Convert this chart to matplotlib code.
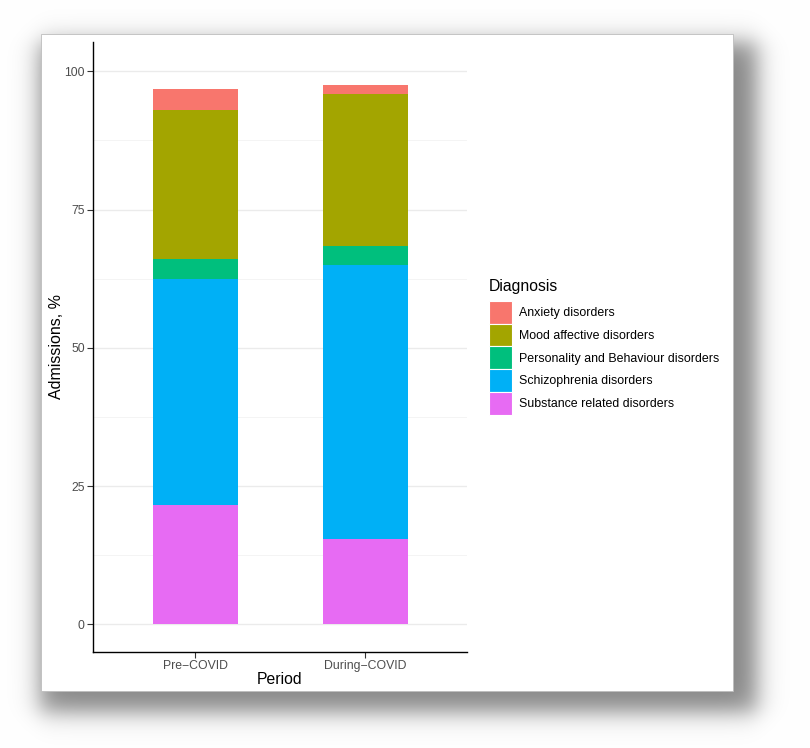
import numpy as np
import matplotlib
matplotlib.use("Agg")
import matplotlib.pyplot as plt
from matplotlib.patches import Patch, Rectangle

# ---- data ----
periods = ["Pre\u2212COVID", "During\u2212COVID"]
diagnoses = ["Anxiety disorders", "Mood affective disorders",
             "Personality and Behaviour disorders", "Schizophrenia disorders",
             "Substance related disorders"]
substance = [21.5, 15.4]
schizophrenia = [40.9, 49.65]
personality = [3.65, 3.35]
mood = [26.95, 27.45]
anxiety = [3.75, 1.65]
colors = ["#F8766D", "#A3A500", "#00BF7D", "#00B0F6", "#E76BF3"]

plt.rcParams['font.family'] = ['Liberation Sans', 'DejaVu Sans']

W, H = 810, 748
fig = plt.figure(figsize=(W / 100, H / 100), dpi=100)

# background with drop shadow
bg = fig.add_axes([0, 0, 1, 1], zorder=0)
bg.set_axis_off()
xs = np.arange(W) + 0.5
ys = np.arange(H) + 0.5
def soft(a, lo, hi, s):
    return 0.5 * (1 + np.tanh((a - lo) / s)) * 0.5 * (1 + np.tanh((hi - a) / s))
sx = soft(xs, 40, 757, 14)
sy = soft(ys, 42, 712, 14)
shade = 0.47 * np.outer(sy, sx)
img = 1 - shade
bg.imshow(np.dstack([img, img, img]), extent=[0, W, H, 0], aspect='auto')
bg.set_xlim(0, W)
bg.set_ylim(H, 0)
bg.add_patch(Rectangle((41, 34), 692, 657, facecolor='white', edgecolor='#bdbdbd', lw=0.6))

# main axes
left, right, top, bottom = 93, 467, 42, 651.7
ax = fig.add_axes([left / W, 1 - bottom / H, (right - left) / W, (bottom - top) / H], zorder=2)
ax.set_facecolor('white')
x = np.arange(len(periods)) + 1
stack = [substance, schizophrenia, personality, mood, anxiety]
stack_colors = colors[::-1]
base = np.zeros(len(periods))
for vals, c in zip(stack, stack_colors):
    ax.bar(x, vals, bottom=base, width=0.5, color=c, zorder=3, linewidth=0)
    base = base + np.array(vals)

ax.set_xlim(0.4, 2.6)
ax.set_ylim(-4.95, 105.3)
ax.set_yticks([0, 25, 50, 75, 100])
ax.set_yticks([12.5, 37.5, 62.5, 87.5], minor=True)
ax.set_xticks(x)
ax.set_xticklabels(periods)
ax.grid(axis='y', which='major', color='#EBEBEB', lw=1.0, zorder=0)
ax.grid(axis='y', which='minor', color='#F2F2F2', lw=0.6, zorder=0)
ax.tick_params(axis='y', which='minor', length=0)
ax.tick_params(axis='both', which='major', labelsize=8.8, labelcolor='#4D4D4D',
               color='#333333', length=4, width=0.8, pad=2)
for s in ['top', 'right']:
    ax.spines[s].set_visible(False)
for s in ['left', 'bottom']:
    ax.spines[s].set_linewidth(1.0)
    ax.spines[s].set_color('black')
ax.set_xlabel("Period", fontsize=11.3, labelpad=0)
ax.set_ylabel("Admissions, %", fontsize=11.5, labelpad=0)

handles = [Patch(facecolor=c, edgecolor='white', lw=0.8) for c in colors]
leg = fig.legend(handles, diagnoses, loc='upper left',
                 bbox_to_anchor=(489 / W, 1 - 279 / H), frameon=False,
                 fontsize=8.9, title="Diagnosis", title_fontsize=11.3,
                 handlelength=1.85, handleheight=2.45, labelspacing=0.0,
                 handletextpad=0.6, borderpad=0, borderaxespad=0,
                 alignment='left')
leg._legend_box.sep = 5

fig.savefig("out.png", dpi=100)
